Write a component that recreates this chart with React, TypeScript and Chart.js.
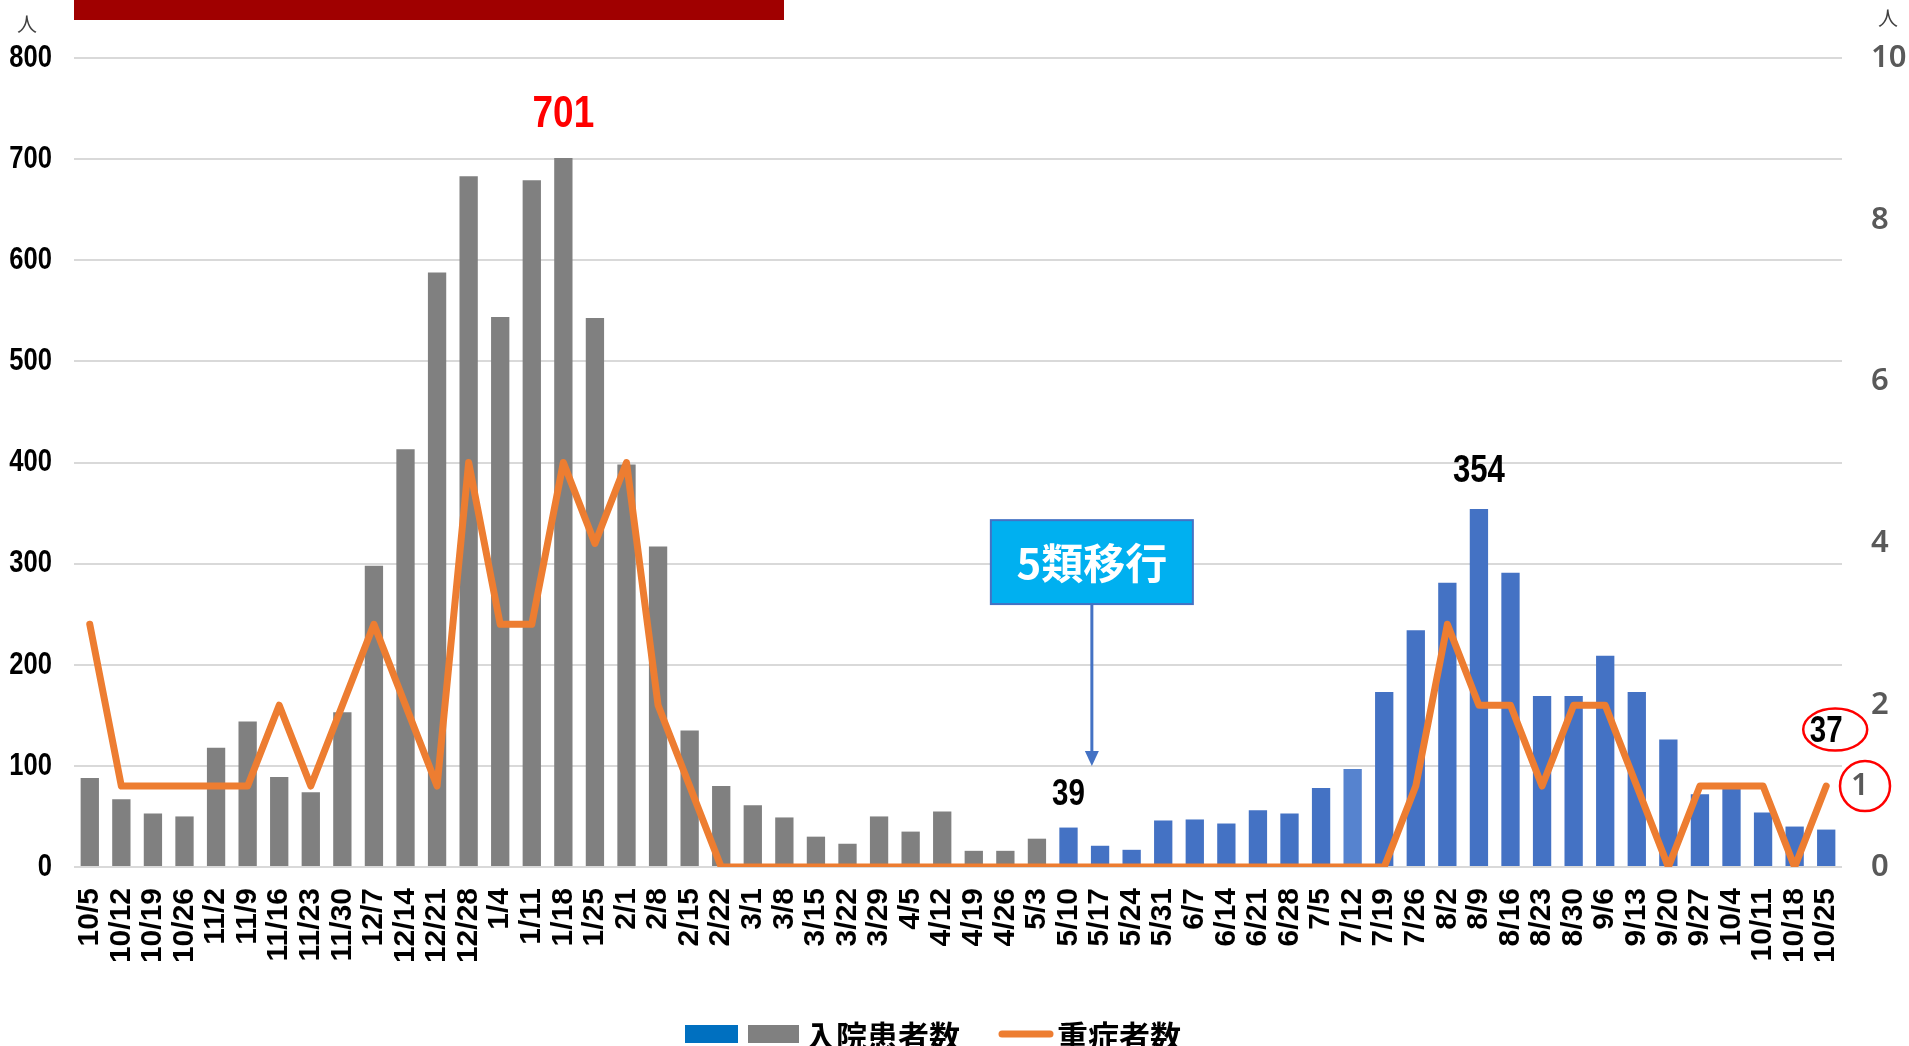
import React, { useEffect, useRef } from "react";
import { Chart, registerables } from "chart.js";

Chart.register(...registerables);

const categories = [
  "10/5", "10/12", "10/19", "10/26", "11/2", "11/9", "11/16", "11/23", "11/30",
  "12/7", "12/14", "12/21", "12/28", "1/4", "1/11", "1/18", "1/25", "2/1", "2/8",
  "2/15", "2/22", "3/1", "3/8", "3/15", "3/22", "3/29", "4/5", "4/12", "4/19",
  "4/26", "5/3", "5/10", "5/17", "5/24", "5/31", "6/7", "6/14", "6/21", "6/28",
  "7/5", "7/12", "7/19", "7/26", "8/2", "8/9", "8/16", "8/23", "8/30", "9/6",
  "9/13", "9/20", "9/27", "10/4", "10/11", "10/18", "10/25",
];

const inpatients = [
  88, 67, 53, 50, 118, 144, 89, 74, 153, 298, 413, 588, 683, 544, 679, 701, 543,
  398, 317, 135, 80, 61, 49, 30, 23, 50, 35, 55, 16, 16, 28, 39, 21, 17, 46, 47,
  43, 56, 53, 78, 97, 173, 234, 281, 354, 291, 169, 169, 209, 173, 126, 72, 79,
  54, 40, 37,
];

const severe = [
  3, 1, 1, 1, 1, 1, 2, 1, 2, 3, 2, 1, 5, 3, 3, 5, 4, 5, 2, 1,
  0, 0, 0, 0, 0, 0, 0, 0, 0, 0, 0, 0, 0, 0, 0, 0, 0, 0, 0, 0, 0, 0,
  1, 3, 2, 2, 1, 2, 2, 1, 0, 1, 1, 1, 0, 1,
];

const leftTicks = [0, 100, 200, 300, 400, 500, 600, 700, 800];
const rightTicks = [0, 2, 4, 6, 8, 10];

// index of first week after the category-5 transition (bars turn blue)
const transitionIndex = 31;
const lighterIndex = 40;

const barColors = inpatients.map((_, i) =>
  i < transitionIndex ? "#808080" : i === lighterIndex ? "#5683CF" : "#4472C4"
);

const labelledBars = [
  { index: 15, text: "701", color: "#FF0000", size: 44, gap: 43, weight: "bold", sx: 0.84 },
  { index: 44, text: "354", color: "#000000", size: 38, gap: 38, weight: "bold", sx: 0.82 },
  { index: 31, text: "39", color: "#000000", size: 36, gap: 32, weight: "bold", sx: 0.82 },
  { index: 55, text: "37", color: "#000000", size: 36, gap: 98, weight: "bold", sx: 0.82 },
];

const SANS = "'Liberation Sans', Arial, sans-serif";
const CJK = "'Noto Sans CJK JP', 'Noto Sans', sans-serif";

function narrowText(
  ctx: CanvasRenderingContext2D,
  text: string,
  x: number,
  y: number,
  size: number,
  color: string,
  align: CanvasTextAlign,
  sx = 0.8,
  weight = "bold"
) {
  ctx.save();
  ctx.translate(x, y);
  ctx.scale(sx, 1);
  ctx.font = `${weight} ${size}px ${SANS}`;
  ctx.fillStyle = color;
  ctx.textAlign = align;
  ctx.textBaseline = "middle";
  ctx.fillText(text, 0, 0);
  ctx.restore();
}

const overlay = {
  id: "overlay",
  afterDatasetsDraw(chart: any) {
    const ctx = chart.ctx;
    const x = chart.scales.x;
    const y = chart.scales.y;
    const y1 = chart.scales.y1;
    const meta = chart.getDatasetMeta(1);

    // left axis tick labels (condensed bold)
    leftTicks.forEach((v) => {
      narrowText(ctx, String(v), y.right - 22, y.getPixelForValue(v), 32, "#000000", "right", 0.8);
    });

    // data labels
    labelledBars.forEach((l) => {
      const bar = meta.data[l.index];
      narrowText(ctx, l.text, bar.x, bar.y - l.gap, l.size, l.color, "center", l.sx, l.weight);
    });

    ctx.save();
    // ellipse around last label
    const last = meta.data[55];
    ctx.strokeStyle = "#FF0000";
    ctx.lineWidth = 2.5;
    ctx.beginPath();
    ctx.ellipse(last.x + 9, last.y - 100, 32, 21, 0, 0, Math.PI * 2);
    ctx.stroke();

    // annotation: 5類移行
    const ax = x.getPixelForValue(transitionIndex + 0.74);
    const boxTop = y.getPixelForValue(343);
    const boxBottom = y.getPixelForValue(260);
    const boxW = 202;
    const tipY = y.getPixelForValue(100);
    ctx.strokeStyle = "#4472C4";
    ctx.fillStyle = "#4472C4";
    ctx.lineWidth = 3;
    ctx.beginPath();
    ctx.moveTo(ax, boxBottom);
    ctx.lineTo(ax, tipY - 13);
    ctx.stroke();
    ctx.beginPath();
    ctx.moveTo(ax - 7, tipY - 15);
    ctx.lineTo(ax + 7, tipY - 15);
    ctx.lineTo(ax, tipY);
    ctx.closePath();
    ctx.fill();

    ctx.fillStyle = "#00B0F0";
    ctx.fillRect(ax - boxW / 2, boxTop, boxW, boxBottom - boxTop);
    ctx.strokeStyle = "#4472C4";
    ctx.lineWidth = 2;
    ctx.strokeRect(ax - boxW / 2, boxTop, boxW, boxBottom - boxTop);
    ctx.fillStyle = "#FFFFFF";
    ctx.font = `bold 42px ${CJK}`;
    ctx.textAlign = "center";
    ctx.textBaseline = "middle";
    ctx.fillText("5類移行", ax, (boxTop + boxBottom) / 2 + 1);

    // circled "1" on right axis
    const oneY = y1.getPixelForValue(1);
    ctx.fillStyle = "#595959";
    ctx.font = `600 31px 'Noto Sans', sans-serif`;
    ctx.textAlign = "left";
    ctx.fillText("1", y1.left + 9, oneY);
    ctx.strokeStyle = "#FF0000";
    ctx.lineWidth = 2.5;
    ctx.beginPath();
    ctx.ellipse(y1.left + 23, oneY, 25, 25, 0, 0, Math.PI * 2);
    ctx.stroke();
    ctx.restore();
  },
  afterDraw(chart: any) {
    const ctx = chart.ctx;
    ctx.save();
    // title bar (cut off at top)
    ctx.fillStyle = "#A00000";
    ctx.fillRect(74, 0, 710, 20);
    ctx.fillStyle = "#FFFFFF";
    ctx.font = `bold 32px ${CJK}`;
    ctx.textAlign = "left";
    ctx.textBaseline = "alphabetic";
    ctx.fillText("入院患者数（2022年10月～2023年10月）", 110, -4);

    // unit labels
    ctx.fillStyle = "#404040";
    ctx.font = `20px ${CJK}`;
    ctx.textAlign = "center";
    ctx.textBaseline = "middle";
    ctx.fillText("人", 27, 24);
    ctx.fillText("人", 1888, 18);

    // legend
    const ly = 1034;
    ctx.fillStyle = "#0070C0";
    ctx.fillRect(685, ly - 9, 53, 18);
    ctx.fillStyle = "#808080";
    ctx.fillRect(748, ly - 9, 51, 18);
    ctx.fillStyle = "#000000";
    ctx.font = `bold 31px ${CJK}`;
    ctx.textAlign = "left";
    ctx.fillText("入院患者数", 805, ly + 2);
    ctx.strokeStyle = "#ED7D31";
    ctx.lineWidth = 7;
    ctx.lineCap = "round";
    ctx.beginPath();
    ctx.moveTo(1002, ly);
    ctx.lineTo(1050, ly);
    ctx.stroke();
    ctx.fillText("重症者数", 1057, ly + 2);
    ctx.restore();
  },
};

export default function App() {
  const ref = useRef<HTMLCanvasElement>(null);

  useEffect(() => {
    document.body.style.margin = "0";
    const canvas = ref.current!;
    const chart = new Chart(canvas, {
      type: "bar",
      data: {
        labels: categories,
        datasets: [
          {
            type: "line",
            label: "重症者数",
            data: severe,
            yAxisID: "y1",
            borderColor: "#ED7D31",
            borderWidth: 7,
            pointRadius: 0,
            borderJoinStyle: "round",
            borderCapStyle: "round",
            tension: 0,
            order: 0,
          } as any,
          {
            type: "bar",
            label: "入院患者数",
            data: inpatients,
            yAxisID: "y",
            backgroundColor: barColors,
            barPercentage: 0.58,
            categoryPercentage: 1,
            order: 1,
          },
        ],
      },
      options: {
        responsive: false,
        animation: false,
        layout: { padding: { top: 58, left: 0, right: 0, bottom: 0 } },
        plugins: {
          legend: { display: false },
          tooltip: { enabled: false },
          title: { display: false },
        },
        scales: {
          x: {
            offset: true,
            grid: { display: false },
            border: { display: false },
            ticks: {
              autoSkip: false,
              minRotation: 90,
              maxRotation: 90,
              padding: 13,
              color: "#000000",
              font: { family: SANS, size: 30, weight: "bold" },
            },
            afterFit: (s: any) => {
              s.height = 179;
            },
          },
          y: {
            position: "left",
            min: 0,
            max: 800,
            grid: { color: "#D9D9D9", lineWidth: 2, drawTicks: false },
            border: { display: false },
            afterBuildTicks: (s: any) => {
              s.ticks = leftTicks.map((v) => ({ value: v }));
            },
            ticks: { display: false },
            afterFit: (s: any) => {
              s.width = 74;
            },
          },
          y1: {
            position: "right",
            min: 0,
            max: 10,
            grid: { display: false, drawTicks: false },
            border: { display: false },
            afterBuildTicks: (s: any) => {
              s.ticks = rightTicks.map((v) => ({ value: v }));
            },
            ticks: {
              padding: 29,
              color: "#595959",
              font: { family: "'Noto Sans', sans-serif", size: 31, weight: "600" },
            },
            afterFit: (s: any) => {
              s.width = 67;
            },
          },
        },
      },
      plugins: [overlay],
    });
    return () => chart.destroy();
  }, []);

  return (
    <canvas
      ref={ref}
      width={1909}
      height={1046}
      style={{ display: "block", width: 1909, height: 1046 }}
    />
  );
}
